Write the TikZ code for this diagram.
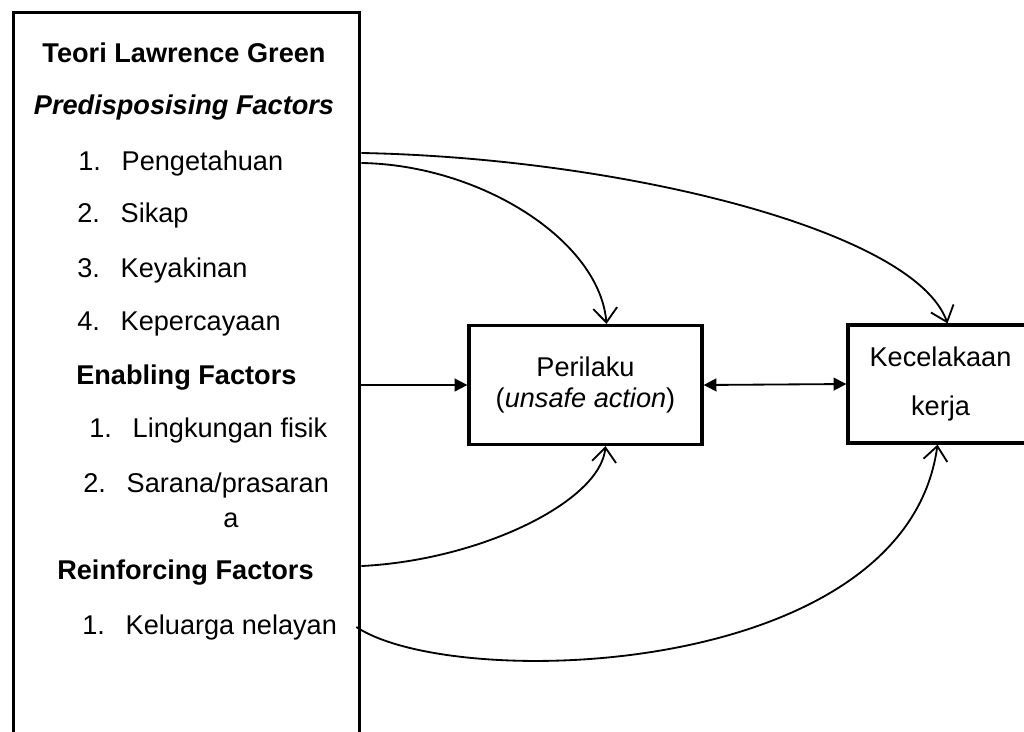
\documentclass[tikz,border=0pt]{standalone}
\usepackage{fontspec}
\setmainfont{Liberation Sans}
\usetikzlibrary{positioning}
\usetikzlibrary{calc}
\usetikzlibrary{arrows.meta}

\newcommand{\butir}[2]{\makebox[1.6em][l]{#1}#2}

\begin{document}
\begin{tikzpicture}[
    x=0.025cm, y=-0.025cm,
    frame/.style={rectangle, draw=black, line width=2.3pt, inner sep=0pt},
    teks/.style={anchor=base west, inner sep=0pt, font=\fontsize{19.3}{23}\selectfont},
    judul/.style={anchor=base, inner sep=0pt, font=\fontsize{19.3}{23}\selectfont\bfseries},
    kotak/.style={rectangle, draw=black, line width=2.3pt, align=center, font=\fontsize{19.3}{22.7}\selectfont},
    panah/.style={line width=1.3pt, -{Straight Barb[length=3.6mm,width=6mm]}},
    panahpenuh/.style={line width=1.3pt, -{Triangle[length=3.2mm,width=3.2mm]}},
    panahdua/.style={line width=1.3pt, {Triangle[length=3.2mm,width=3.2mm]}-{Triangle[length=3.2mm,width=3.2mm]}},
    ]
        \useasboundingbox (0,0) rectangle (1024,731);
        \clip (0,0) rectangle (1024,731);

        % kotak teori
        \node[frame, anchor=north west, minimum width=8.65cm, minimum height=19.5cm] (green) at (12,11) {};
        \node[judul] (teori) at (184,62) {Teori Lawrence Green};
        \node[judul, font=\fontsize{19.3}{23}\selectfont\bfseries\itshape] (predis) at (184,114) {Predisposising Factors};
        \node[teks] (peng) at (78,170) {\butir{1.}{Pengetahuan}};
        \node[teks] (sikap) at (77,222) {\butir{2.}{Sikap}};
        \node[teks] (yakin) at (77,277) {\butir{3.}{Keyakinan}};
        \node[teks] (percaya) at (77,330) {\butir{4.}{Kepercayaan}};
        \node[teks, font=\fontsize{19.3}{23}\selectfont\bfseries] (enabling) at (76,384) {Enabling Factors};
        \node[teks] (ling) at (89,437) {\butir{1.}{Lingkungan fisik}};
        \node[teks] (sarana) at (83,492) {\butir{2.}{Sarana/prasaran}};
        \node[teks] (sarana2) at (223,527) {a};
        \node[teks, font=\fontsize{19.3}{23}\selectfont\bfseries] (reinf) at (57,579) {Reinforcing Factors};
        \node[teks] (kel) at (82,634) {\butir{1.}{Keluarga nelayan}};

        % kotak kanan
        \node[kotak, minimum width=5.825cm, minimum height=2.975cm] (peri) at (585.5,385) {Perilaku\\(\textit{unsafe action})};
        \node[kotak, minimum width=4.625cm, minimum height=2.95cm] (celaka) at (940.5,384) {Kecelakaan\\[12.7pt]kerja};

        % panah
        \draw[panah] ($(green.east |- peng)+(0,-10)$) .. controls +(260,5) and +(-33,-93) .. ($(celaka.north)+(7,0)$);
        \draw[panah] (green.east |- peng) .. controls +(120,2) and +(-7,-83) .. ($(peri.north)+(21,0)$);
        \draw[panahpenuh] (green.east |- peri) -- (peri.west);
        \draw[panahdua] (peri.east) -- (celaka.west);
        \draw[panah] ($(green.east |- reinf)+(0,-6)$) .. controls +(120,-6) and +(-5,55) .. ($(peri.south)+(20,0)$);
        \draw[panah] ($(green.east |- kel)+(-5,0)$) .. controls +(97,65) and +(-32,235) .. ($(celaka.south)+(-3,0)$);
    \end{tikzpicture}
\end{document}
